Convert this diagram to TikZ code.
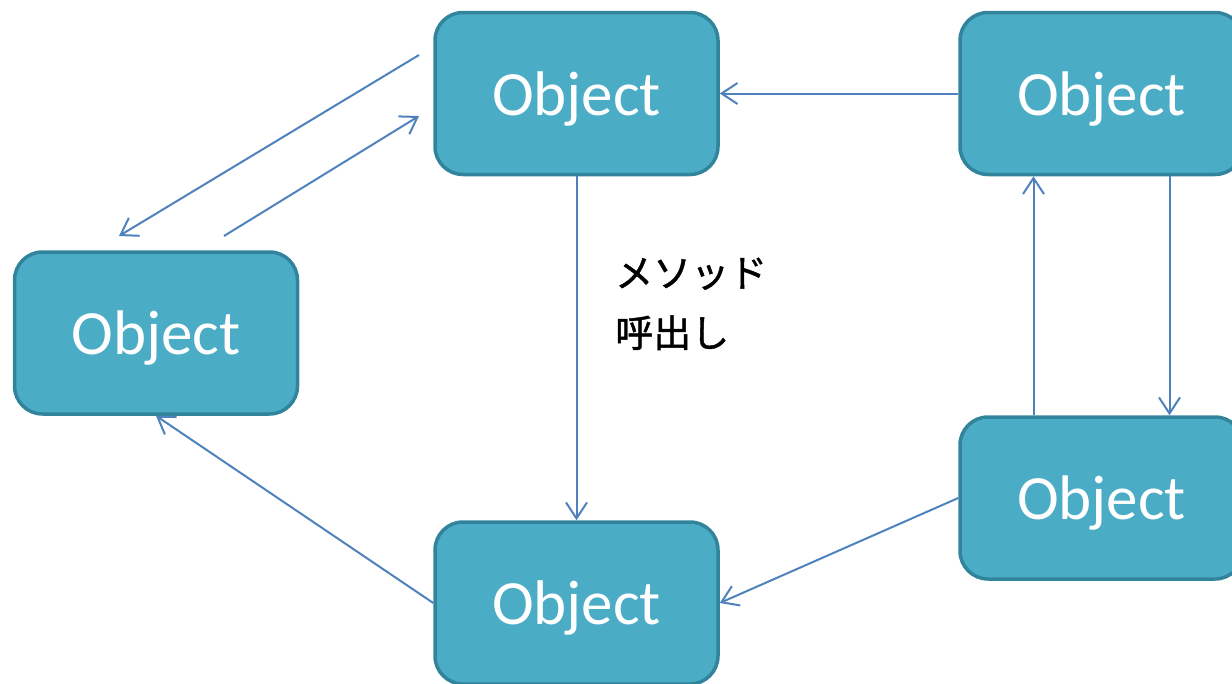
\documentclass[tikz,border=0pt]{standalone}
\usepackage{fontspec}
\setmainfont{Carlito}
\newfontfamily\jpfont[FakeBold=1.2]{Noto Sans CJK JP}
\usetikzlibrary{arrows.meta}
\definecolor{boxfill}{HTML}{4BACC6}
\definecolor{boxedge}{HTML}{31849B}
\definecolor{arrowc}{HTML}{4F81BD}
\tikzset{
  objbox/.style={rectangle, rounded corners=28pt, draw=boxedge, fill=boxfill,
    line width=3.5pt, minimum width=283pt, minimum height=162pt, inner sep=0pt,
    text=white, text depth=0pt, font=\fontsize{63}{75}\selectfont},
  conn/.style={draw=arrowc, line width=2pt, -{Straight Barb[length=16pt,width=21pt]}},
  jplabel/.style={anchor=base west, inner sep=0pt, font=\jpfont\fontsize{38}{60}\selectfont}
}
\begin{document}
\begin{tikzpicture}[x=1pt,y=-1pt]
\useasboundingbox (0,0) rectangle (1232,683);
\begin{scope}
\clip (0,0) rectangle (1232,683);
\node[objbox] (tc) at (576.5,93.5) {Object};
\node[objbox] (tr) at (1101.5,93.5) {Object};
\node[objbox] (l)  at (156,333) {Object};
\node[objbox] (br) at (1101.5,498) {Object};
\node[objbox] (bc) at (576.5,603) {Object};
\end{scope}
\coordinate (a1) at (419,55);
\coordinate (a2) at (119,236);
\coordinate (a3) at (224,236);
\coordinate (a4) at (419,116);
\draw[conn] (tr.west) -- (tc.east);
\draw[conn] (tc.south) -- (bc.north);
\draw[conn] ([xshift=68pt]tr.south) -- ([xshift=68pt]br.north);
\draw[conn] ([xshift=-68pt]br.north) -- ([xshift=-68pt]tr.south);
\draw[conn] (br.west) -- (bc.east);
\draw[conn] (bc.west) -- (l.south);
\draw[conn] (a1) -- (a2);
\draw[conn] (a3) -- (a4);
\node[jplabel] (lab1) at (615,287) {メソッド};
\node[jplabel] (lab2) at (615,347) {呼出し};
\end{tikzpicture}
\end{document}
